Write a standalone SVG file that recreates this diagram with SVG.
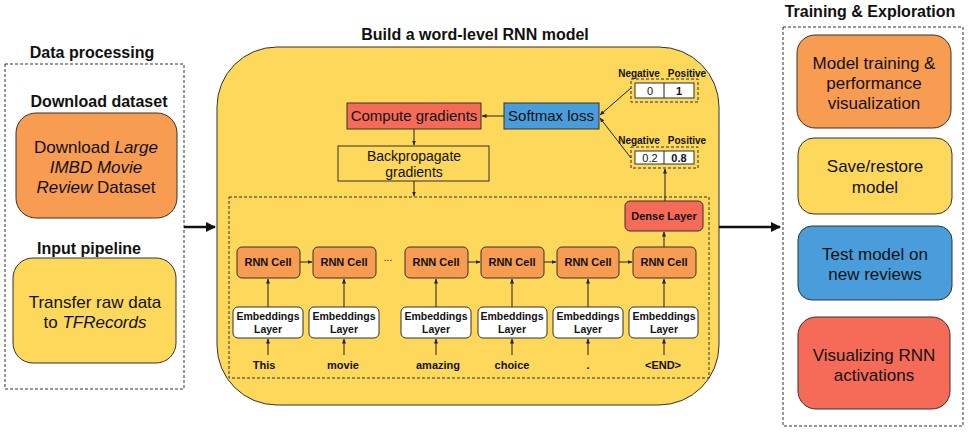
<svg xmlns="http://www.w3.org/2000/svg" width="968" height="433" viewBox="0 0 968 433">
<defs>
<style>
text{font-family:"Liberation Sans",Arial,sans-serif;fill:#111}
.h{font-size:16px;font-weight:bold;text-anchor:middle}
.t{font-size:17px;text-anchor:middle}
.m{font-size:15px;text-anchor:middle}
.s{font-size:14px;text-anchor:middle}
.b{font-size:11px;font-weight:bold;text-anchor:middle}
.e{font-size:10.5px;font-weight:bold;text-anchor:middle}
.l{font-size:10px;font-weight:bold;text-anchor:middle}
.n{font-size:11px;text-anchor:middle}
.dash{fill:none;stroke:#333;stroke-width:1;stroke-dasharray:3,2}
.orange{fill:#F79C50;stroke:#333;stroke-width:1}
.yellow{fill:#FDD85A;stroke:#333;stroke-width:1}
.blue{fill:#4A9DDB;stroke:#333;stroke-width:1}
.red{fill:#F56B58;stroke:#333;stroke-width:1}
.white{fill:#fff;stroke:#333;stroke-width:1}
.ln{stroke:#222;stroke-width:1;fill:none}
.big{stroke:#111;stroke-width:2.5;fill:none}
</style>
<marker id="a" viewBox="0 0 10 10" refX="9" refY="5" markerWidth="5" markerHeight="5" orient="auto"><path d="M0,1 L10,5 L0,9 z" fill="#222"/></marker>
<marker id="A" viewBox="0 0 10 10" refX="9" refY="5" markerWidth="4" markerHeight="4" orient="auto"><path d="M0,0 L10,5 L0,10 z" fill="#111"/></marker>
</defs>
<rect width="968" height="433" fill="#fff"/>

<g id="data-processing">
<text class="h" x="92" y="58">Data processing</text>
<rect class="dash" x="5" y="64" width="179" height="325"/>
</g>
<g id="download">
<text class="h" x="99" y="107">Download dataset</text>
<rect class="orange" x="16" y="113" width="161" height="105" rx="20"/>
<text class="t" x="96" y="153">Download <tspan font-style="italic">Large</tspan></text>
<text class="t" x="96" y="173" font-style="italic">IMBD Movie</text>
<text class="t" x="96" y="193"><tspan font-style="italic">Review</tspan> Dataset</text>
</g>
<g id="input-pipeline">
<text class="h" x="89" y="254">Input pipeline</text>
<rect class="yellow" x="13" y="258" width="163" height="105" rx="20"/>
<text class="t" x="95" y="308">Transfer raw data</text>
<text class="t" x="95" y="328">to <tspan font-style="italic">TFRecords</tspan></text>
</g>

<g id="rnn-model">
<text class="h" x="475" y="40">Build a word-level RNN model</text>
<rect class="yellow" x="217" y="47" width="502" height="358" rx="60"/>
<rect class="dash" x="229" y="197" width="480" height="181"/>
</g>
<g id="compute-gradients">
<rect class="red" x="347" y="103" width="134" height="26"/>
<text class="m" x="414" y="121">Compute gradients</text>
</g>
<g id="softmax-loss">
<rect class="blue" x="504" y="103" width="95" height="26"/>
<text class="m" x="551" y="121">Softmax loss</text>
</g>
<g id="backprop">
<rect x="338" y="146" width="151" height="35" fill="none" stroke="#333"/>
<text class="s" x="414" y="161">Backpropagate</text>
<text class="s" x="414" y="177">gradients</text>
</g>
<g id="label-table">
<text class="l" x="639" y="77">Negative</text>
<text class="l" x="687" y="77">Positive</text>
<rect class="dash" x="631" y="79" width="67" height="23"/>
<rect class="white" x="635" y="83" width="59" height="15"/>
<line class="ln" x1="664" y1="83" x2="664" y2="98"/>
<text class="n" x="650" y="95" fill="#555">0</text>
<text class="b" x="679" y="95">1</text>
</g>
<g id="pred-table">
<text class="l" x="639" y="144">Negative</text>
<text class="l" x="687" y="144">Positive</text>
<rect class="dash" x="631" y="147" width="67" height="21"/>
<rect class="white" x="635" y="151" width="59" height="13"/>
<line class="ln" x1="664" y1="151" x2="664" y2="164"/>
<text class="n" x="650" y="162" fill="#555">0.2</text>
<text class="b" x="679" y="162">0.8</text>
</g>
<g id="dense-layer">
<rect class="red" x="625" y="201" width="78" height="30" rx="5"/>
<text class="b" x="664" y="220">Dense Layer</text>
</g>

<g id="rnn1"><rect class="orange" x="237" y="247" width="63" height="31" rx="5"/><text class="b" x="268" y="266">RNN Cell</text></g>
<g id="rnn2"><rect class="orange" x="313" y="247" width="63" height="31" rx="5"/><text class="b" x="344" y="266">RNN Cell</text></g>
<g id="rnn3"><rect class="orange" x="405" y="247" width="63" height="31" rx="5"/><text class="b" x="436" y="266">RNN Cell</text></g>
<g id="rnn4"><rect class="orange" x="481" y="247" width="63" height="31" rx="5"/><text class="b" x="512" y="266">RNN Cell</text></g>
<g id="rnn5"><rect class="orange" x="557" y="247" width="62" height="31" rx="5"/><text class="b" x="588" y="266">RNN Cell</text></g>
<g id="rnn6"><rect class="orange" x="633" y="247" width="63" height="31" rx="5"/><text class="b" x="664" y="266">RNN Cell</text></g>
<text x="388" y="261" font-size="10" text-anchor="middle">...</text>

<g id="emb1"><rect class="white" x="233" y="307" width="70" height="31" rx="5"/><text class="e" x="268" y="320">Embeddings</text><text class="e" x="268" y="333">Layer</text></g>
<g id="emb2"><rect class="white" x="309" y="307" width="70" height="31" rx="5"/><text class="e" x="344" y="320">Embeddings</text><text class="e" x="344" y="333">Layer</text></g>
<g id="emb3"><rect class="white" x="401" y="307" width="70" height="31" rx="5"/><text class="e" x="436" y="320">Embeddings</text><text class="e" x="436" y="333">Layer</text></g>
<g id="emb4"><rect class="white" x="478" y="307" width="69" height="31" rx="5"/><text class="e" x="512" y="320">Embeddings</text><text class="e" x="512" y="333">Layer</text></g>
<g id="emb5"><rect class="white" x="553" y="307" width="70" height="31" rx="5"/><text class="e" x="588" y="320">Embeddings</text><text class="e" x="588" y="333">Layer</text></g>
<g id="emb6"><rect class="white" x="629" y="307" width="69" height="31" rx="5"/><text class="e" x="664" y="320">Embeddings</text><text class="e" x="664" y="333">Layer</text></g>

<g id="words">
<text class="b" x="264" y="369">This</text>
<text class="b" x="343" y="369">movie</text>
<text class="b" x="438" y="369">amazing</text>
<text class="b" x="512" y="369">choice</text>
<text class="b" x="588" y="369">.</text>
<text class="b" x="663" y="369">&lt;END&gt;</text>
</g>

<g id="training">
<text class="h" x="870" y="17">Training &amp; Exploration</text>
<rect class="dash" x="783" y="27" width="180" height="399"/>
</g>
<g id="model-training"><rect class="orange" x="797" y="35" width="154" height="93" rx="18"/>
<text class="t" x="874" y="69">Model training &amp;</text><text class="t" x="874" y="89">performance</text><text class="t" x="874" y="109">visualization</text></g>
<g id="save-restore"><rect class="yellow" x="798" y="138" width="154" height="76" rx="16"/>
<text class="t" x="875" y="172">Save/restore</text><text class="t" x="875" y="193">model</text></g>
<g id="test-model"><rect class="blue" x="798" y="226" width="154" height="74" rx="14"/>
<text class="t" x="875" y="260">Test model on</text><text class="t" x="875" y="280">new reviews</text></g>
<g id="visualizing"><rect class="red" x="798" y="317" width="152" height="92" rx="18"/>
<text class="t" x="874" y="361">Visualizing RNN</text><text class="t" x="874" y="381">activations</text></g>

<g id="connectors">
<line class="big" x1="184" y1="227" x2="215" y2="227" marker-end="url(#A)"/>
<line class="big" x1="719" y1="227" x2="780" y2="227" marker-end="url(#A)"/>
<line class="ln" x1="504" y1="116" x2="482" y2="116" marker-end="url(#a)"/>
<line class="ln" x1="414" y1="129" x2="414" y2="145" marker-end="url(#a)"/>
<line class="ln" x1="414" y1="181" x2="414" y2="196" marker-end="url(#a)"/>
<line class="ln" x1="631" y1="88" x2="600" y2="115" marker-end="url(#a)"/>
<line class="ln" x1="631" y1="158" x2="600" y2="118" marker-end="url(#a)"/>
<line class="ln" x1="665" y1="201" x2="665" y2="169" marker-end="url(#a)"/>
<line class="ln" x1="664" y1="247" x2="664" y2="232" marker-end="url(#a)"/>
<line class="ln" x1="300" y1="262" x2="312" y2="262" marker-end="url(#a)"/>
<line class="ln" x1="468" y1="262" x2="480" y2="262" marker-end="url(#a)"/>
<line class="ln" x1="544" y1="262" x2="556" y2="262" marker-end="url(#a)"/>
<line class="ln" x1="619" y1="262" x2="632" y2="262" marker-end="url(#a)"/>
<line class="ln" x1="268" y1="307" x2="268" y2="279" marker-end="url(#a)"/>
<line class="ln" x1="344" y1="307" x2="344" y2="279" marker-end="url(#a)"/>
<line class="ln" x1="436" y1="307" x2="436" y2="279" marker-end="url(#a)"/>
<line class="ln" x1="512" y1="307" x2="512" y2="279" marker-end="url(#a)"/>
<line class="ln" x1="588" y1="307" x2="588" y2="279" marker-end="url(#a)"/>
<line class="ln" x1="664" y1="307" x2="664" y2="279" marker-end="url(#a)"/>
<line class="ln" x1="268" y1="355" x2="268" y2="339" marker-end="url(#a)"/>
<line class="ln" x1="344" y1="355" x2="344" y2="339" marker-end="url(#a)"/>
<line class="ln" x1="436" y1="355" x2="436" y2="339" marker-end="url(#a)"/>
<line class="ln" x1="512" y1="355" x2="512" y2="339" marker-end="url(#a)"/>
<line class="ln" x1="588" y1="355" x2="588" y2="339" marker-end="url(#a)"/>
<line class="ln" x1="664" y1="355" x2="664" y2="339" marker-end="url(#a)"/>
</g>
</svg>
